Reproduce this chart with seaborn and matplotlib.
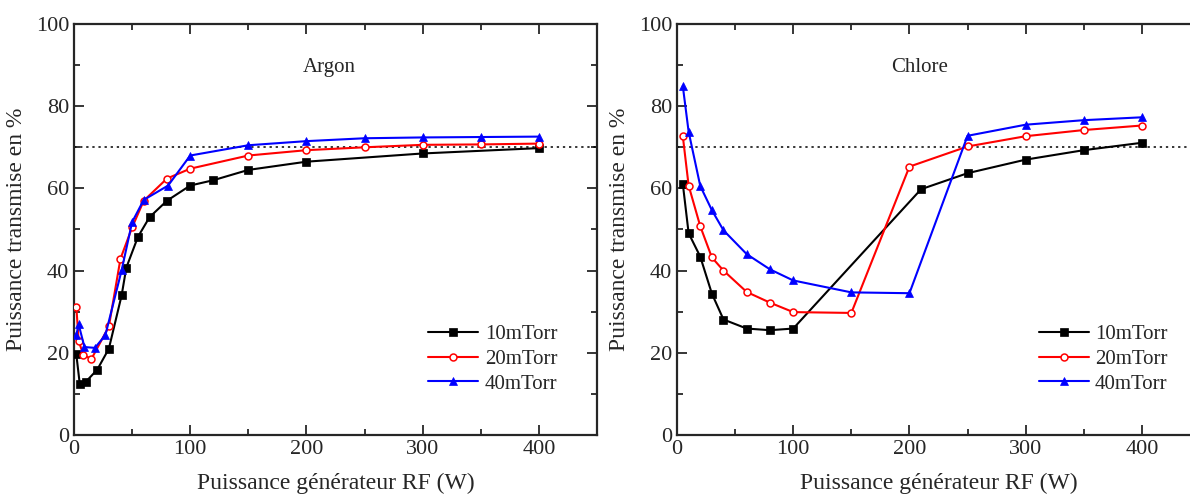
import matplotlib
matplotlib.use("Agg")
import matplotlib.pyplot as plt
import seaborn as sns
import pandas as pd
from matplotlib.ticker import MultipleLocator

# Argon data (RF power W, transmitted power %)
ar_10_x = [2, 5, 10, 20, 30, 41, 45, 55, 65, 80, 100, 120, 150, 200, 300, 400]
ar_10_y = [19.6, 12.3, 12.9, 15.9, 21.0, 34.0, 40.7, 48.2, 53.0, 57.0, 60.7, 62.0, 64.5, 66.5, 68.5, 69.8]
ar_20_x = [2, 4, 8, 15, 30, 40, 50, 60, 80, 100, 150, 200, 250, 300, 350, 400]
ar_20_y = [31.2, 22.9, 19.5, 18.5, 26.4, 42.9, 50.5, 57.0, 62.4, 64.8, 68.0, 69.3, 70.0, 70.6, 70.7, 70.9]
ar_40_x = [2, 4, 9, 18, 27, 41, 50, 60, 81, 100, 150, 200, 250, 300, 350, 400]
ar_40_y = [24.3, 26.9, 21.4, 21.2, 24.3, 40.1, 51.8, 57.2, 60.7, 68.0, 70.5, 71.5, 72.2, 72.4, 72.5, 72.6]

# Chlore data
cl_10_x = [5, 10, 20, 30, 40, 60, 80, 100, 210, 250, 300, 350, 400]
cl_10_y = [61.1, 49.1, 43.4, 34.4, 28.1, 25.9, 25.5, 25.9, 59.8, 63.7, 67.0, 69.3, 71.1]
cl_20_x = [5, 10, 20, 30, 40, 60, 80, 100, 150, 200, 250, 300, 350, 400]
cl_20_y = [72.7, 60.7, 50.8, 43.2, 40.0, 34.8, 32.2, 29.9, 29.7, 65.3, 70.2, 72.7, 74.2, 75.3]
cl_40_x = [5, 10, 20, 30, 40, 60, 80, 100, 150, 200, 250, 300, 350, 400]
cl_40_y = [84.9, 73.8, 60.6, 54.7, 49.8, 44.0, 40.3, 37.6, 34.7, 34.5, 72.8, 75.5, 76.6, 77.3]

labels = ["10mTorr", "20mTorr", "40mTorr"]
colors = ["black", "red", "blue"]
markers = ["s", "o", "^"]
ref_level = 70

sns.set_style("ticks")
plt.rcParams['font.family'] = ['Liberation Serif', 'DejaVu Serif']

fig = plt.figure(figsize=(11.9, 4.98), dpi=100)
ax1 = fig.add_axes([74 / 1190, 63 / 498, 523 / 1190, 411 / 498])
ax2 = fig.add_axes([677 / 1190, 63 / 498, 523 / 1190, 411 / 498])

panels = [
    (ax1, "Argon", [(ar_10_x, ar_10_y), (ar_20_x, ar_20_y), (ar_40_x, ar_40_y)], 220, 0.948),
    (ax2, "Chlore", [(cl_10_x, cl_10_y), (cl_20_x, cl_20_y), (cl_40_x, cl_40_y)], 209, 0.962),
]

for ax, name, series, tx, lx in panels:
    ax.axhline(ref_level, color="black", linestyle=(0, (1.5, 2.5)), linewidth=1.1, zorder=1)
    for (xs, ys), lab, c, m in zip(series, labels, colors, markers):
        df = pd.DataFrame({"x": xs, "y": ys})
        sns.lineplot(data=df, x="x", y="y", ax=ax, color=c, marker=m, label=lab,
                     sort=False, estimator=None, linewidth=1.5,
                     markersize=5.5 if m != "o" else 5,
                     markerfacecolor="white" if m == "o" else c,
                     markeredgecolor=c, markeredgewidth=1.1 if m == "o" else 0.5,
                     zorder=3)
    ax.set_xlim(0, 450)
    ax.set_ylim(0, 100)
    ax.xaxis.set_major_locator(MultipleLocator(100))
    ax.xaxis.set_minor_locator(MultipleLocator(50))
    ax.yaxis.set_major_locator(MultipleLocator(20))
    ax.yaxis.set_minor_locator(MultipleLocator(10))
    ax.tick_params(which="both", direction="in", top=True, right=True, labelsize=16, width=1.3)
    ax.tick_params(which="major", length=7)
    ax.tick_params(which="minor", length=4)
    for sp in ax.spines.values():
        sp.set_linewidth(1.6)
        sp.set_visible(True)
    ax.set_xlabel("Puissance générateur RF (W)", fontsize=17, labelpad=10)
    ax.set_ylabel("Puissance transmise en %", fontsize=17, labelpad=6)
    ax.text(tx, 89.5, name, fontsize=15, ha="center", va="center")
    ax.legend(loc="lower right", bbox_to_anchor=(lx, 0.07),
              frameon=False, fontsize=15, handlelength=2.4, handletextpad=0.3,
              labelspacing=0.25, borderaxespad=0.2)

fig.savefig("out.png", dpi=100)
